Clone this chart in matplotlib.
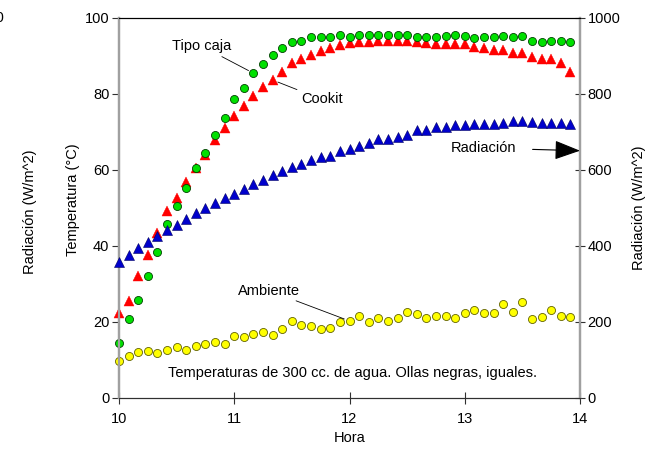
import numpy as np
import matplotlib
matplotlib.use("Agg")
import matplotlib.pyplot as plt

plt.rcParams['font.family'] = ['Liberation Sans', 'DejaVu Sans']

# lecturas cada 5 minutos, 10:00 a 13:55
hora = 10 + np.arange(48) * 5 / 60.0

tipo_caja = [14.4, 20.7, 25.7, 32.1, 38.4, 45.6, 50.4, 55.1, 60.4, 64.3, 69.1, 73.7,
             78.7, 81.6, 85.4, 87.8, 90.3, 92.0, 93.6, 93.9, 95.0, 94.8, 94.8, 95.5,
             95.0, 95.4, 95.4, 95.4, 95.4, 95.4, 95.4, 95.0, 94.9, 95.0, 95.3, 95.4,
             95.2, 94.7, 94.9, 94.9, 95.3, 94.9, 95.2, 93.9, 93.7, 93.9, 93.9, 93.7]
cookit = [22.2, 25.4, 32.1, 37.6, 43.4, 49.2, 52.5, 56.7, 60.5, 63.8, 67.7, 70.9,
          74.1, 76.8, 79.4, 81.8, 83.6, 85.8, 88.0, 89.1, 90.1, 91.2, 91.9, 92.8,
          93.4, 93.7, 93.7, 94.0, 94.0, 93.9, 93.9, 93.6, 93.4, 93.1, 93.0, 93.1,
          93.1, 92.4, 92.0, 91.5, 91.5, 90.6, 90.6, 89.7, 89.1, 89.1, 88.2, 85.8]
ambiente = [9.7, 11.1, 12.0, 12.3, 11.8, 12.5, 13.3, 12.5, 13.5, 14.1, 14.7, 14.1,
            16.2, 15.9, 16.8, 17.2, 16.4, 18.0, 20.2, 19.2, 18.9, 18.0, 18.3, 19.8,
            20.2, 21.5, 19.9, 21.1, 20.2, 21.1, 22.6, 21.9, 21.0, 21.6, 21.5, 21.1,
            22.4, 23.2, 22.4, 22.4, 24.7, 22.6, 25.1, 20.8, 21.2, 23.2, 21.4, 21.2]
radiacion = [358, 376, 394, 410, 426, 441, 455, 471, 485, 499, 512, 525,
             537, 550, 563, 573, 585, 597, 607, 615, 626, 633, 636, 648,
             655, 663, 669, 681, 681, 687, 692, 704, 704, 713, 713, 717,
             717, 719, 719, 721, 723, 727, 728, 726, 724, 724, 723, 719]

fig = plt.figure(figsize=(6.56, 4.51), dpi=100)
ax = fig.add_axes([119/656, 1-397.7/451, 461/656, 380/451])
ax2 = ax.twinx()

ax.plot(hora, ambiente, 'o', color='#ffff00', mec='#606000', mew=0.6, ms=5.8, zorder=3, clip_on=False)
ax2.plot(hora, radiacion, '^', color='#0000cc', mec='#000060', mew=0.4, ms=7.5, zorder=3, clip_on=False)
ax.plot(hora, cookit, '^', color='#ff0000', mec='#ff0000', mew=0.3, ms=7.5, zorder=3, clip_on=False)
ax.plot(hora, tipo_caja, 'o', color='#00e000', mec='#004000', mew=0.6, ms=5.8, zorder=4, clip_on=False)

ax.set_xlim(10, 14)
ax.set_ylim(0, 100)
ax2.set_ylim(0, 1000)
ax.set_xticks([10, 11, 12, 13, 14])
ax.set_yticks(range(0, 101, 20))
ax2.set_yticks(range(0, 1001, 200))

for a in (ax, ax2):
    a.spines['top'].set_color('black')
    a.spines['top'].set_linewidth(0.8)
    a.spines['bottom'].set_color('#303030')
    a.spines['bottom'].set_linewidth(0.8)
    a.spines['left'].set_color('#a0a0a0')
    a.spines['left'].set_linewidth(1.6)
    a.spines['right'].set_color('#a0a0a0')
    a.spines['right'].set_linewidth(1.6)

fs = 10.5
ax.tick_params(axis='y', direction='out', length=5, width=0.8, color='#303030', pad=2, labelsize=fs)
ax.tick_params(axis='x', direction='inout', length=8, width=0.8, color='#303030', pad=6, labelsize=fs)
ax2.tick_params(axis='y', direction='inout', length=7, width=0.8, color='#303030', pad=2, labelsize=fs)

ax.set_xlabel('Hora', fontsize=fs)
ax.xaxis.set_label_coords(0.5, -0.088)
ax.set_ylabel('Temperatura (°C)', fontsize=fs)
ax.yaxis.set_label_coords(-0.085, 0.52)
ax2.set_ylabel('Radiación (W/m^2)', fontsize=fs, labelpad=8)

# restos del eje de radiación de la izquierda
fig.text(30/656, 1-212/451, 'Radiación (W/m^2)', rotation=90, ha='center', va='center', fontsize=fs)
fig.text(5/656, 1-18/451, '1000', ha='right', va='center', fontsize=fs)

line = dict(arrowstyle='-', color='black', lw=0.6, shrinkA=1, shrinkB=4)
ax.annotate('Tipo caja', xy=(hora[14], tipo_caja[14]), xytext=(10.72, 92.5),
            ha='center', va='center', fontsize=fs, arrowprops=line)
ax.annotate('Cookit', xy=(hora[16], cookit[16]), xytext=(11.76, 78.5),
            ha='center', va='center', fontsize=fs, arrowprops=line)
ax.annotate('Ambiente', xy=(hora[24], ambiente[24]), xytext=(11.3, 28.2),
            ha='center', va='center', fontsize=fs, arrowprops=line)
ax2.annotate('Radiación', xy=(14, 650), xytext=(13.16, 657),
             ha='center', va='center', fontsize=fs,
             arrowprops=dict(arrowstyle='-|>,head_length=0.8,head_width=0.3',
                             mutation_scale=20, color='black', lw=0.8,
                             shrinkA=10, shrinkB=0))

ax.text(12.03, 6.5, 'Temperaturas de 300 cc. de agua. Ollas negras, iguales.',
        ha='center', va='center', fontsize=fs)

fig.savefig('out.png', dpi=100)
